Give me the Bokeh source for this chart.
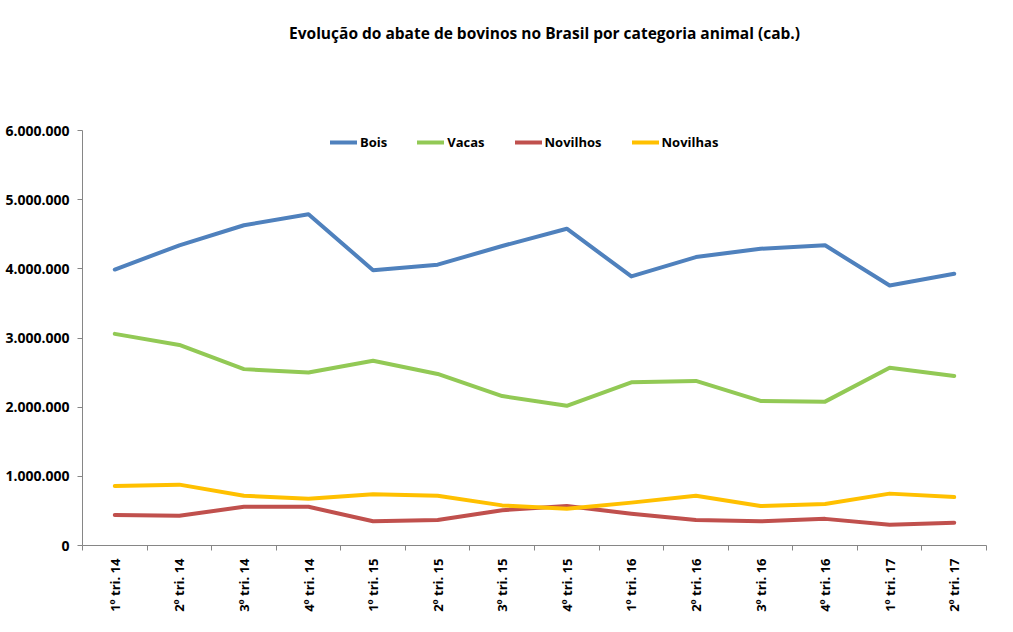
import math
from bokeh.plotting import figure
from bokeh.layouts import column
from bokeh.models import Range1d, FixedTicker, Legend, LegendItem
from bokeh.core.properties import value
from bokeh.embed import file_html
from bokeh.resources import INLINE

categories = ["1º tri. 14", "2º tri. 14", "3º tri. 14", "4º tri. 14",
              "1º tri. 15", "2º tri. 15", "3º tri. 15", "4º tri. 15",
              "1º tri. 16", "2º tri. 16", "3º tri. 16", "4º tri. 16",
              "1º tri. 17", "2º tri. 17"]
bois = [3990000, 4340000, 4630000, 4790000, 3980000, 4060000, 4330000,
        4580000, 3890000, 4170000, 4290000, 4340000, 3760000, 3930000]
vacas = [3060000, 2900000, 2550000, 2500000, 2670000, 2480000, 2160000,
         2020000, 2360000, 2380000, 2090000, 2080000, 2570000, 2450000]
novilhos = [440000, 430000, 560000, 560000, 350000, 370000, 510000,
            570000, 460000, 370000, 350000, 385000, 300000, 330000]
novilhas = [860000, 880000, 720000, 675000, 740000, 720000, 580000,
            530000, 620000, 720000, 570000, 600000, 750000, 700000]
y_ticks = [0, 1000000, 2000000, 3000000, 4000000, 5000000, 6000000]
y_tick_labels = ["0", "1.000.000", "2.000.000", "3.000.000",
                 "4.000.000", "5.000.000", "6.000.000"]
title_text = "Evolução do abate de bovinos no  Brasil por categoria animal (cab.)"

FONT = "Open Sans"
AXIS_GRAY = "#868686"
W, H, TITLE_H = 1013, 632, 64

# ---- title strip (its own small figure, pixel coordinates) ----
tfig = figure(width=W, height=TITLE_H, output_backend="svg", toolbar_location=None,
              x_range=Range1d(0, W), y_range=Range1d(0, TITLE_H),
              min_border=0)
tfig.axis.visible = False
tfig.grid.visible = False
tfig.outline_line_color = None
tfig.background_fill_color = "white"
tfig.border_fill_color = "white"
tfig.title.text = ""
tfig.text(x=[520], y=[TITLE_H - 32], text=[title_text], text_align="center",
          text_baseline="middle", text_font=value(FONT), text_font_style="bold",
          text_font_size=value("15.5px"), text_color="black")

# ---- main chart ----
xs = list(range(1, len(categories) + 1))

p = figure(width=W, height=H - TITLE_H, output_backend="svg", toolbar_location=None,
           x_range=Range1d(0.5, len(categories) + 0.5),
           y_range=Range1d(0, 6000000),
           min_border_left=82, min_border_right=27,
           min_border_top=130 - TITLE_H, min_border_bottom=87)
p.background_fill_color = "white"
p.border_fill_color = "white"
p.outline_line_color = None
p.xgrid.visible = False
p.ygrid.visible = False
p.title.text = ""

series = [("Bois", bois, "#4F81BD"), ("Vacas", vacas, "#92C955"),
          ("Novilhos", novilhos, "#C0504D"), ("Novilhas", novilhas, "#FFC000")]
items = []
for name, vals, col in series:
    r = p.line(xs, vals, line_color=col, line_width=4, line_cap="round",
               line_join="round")
    items.append(LegendItem(label=name, renderers=[r]))

# x axis
xa = p.xaxis[0]
xa.ticker = FixedTicker(ticks=xs, minor_ticks=[x - 0.5 for x in xs] + [len(xs) + 0.5])
xa.major_label_overrides = {x: c for x, c in zip(xs, categories)}
xa.major_label_orientation = math.pi / 2
xa.major_tick_line_color = None
xa.minor_tick_line_color = AXIS_GRAY
xa.minor_tick_out = 5
xa.minor_tick_in = 0
xa.axis_line_color = AXIS_GRAY
xa.major_label_standoff = 7
xa.major_label_text_font = FONT
xa.major_label_text_font_style = "bold"
xa.major_label_text_font_size = "13px"
xa.major_label_text_color = "black"

# y axis
ya = p.yaxis[0]
ya.ticker = FixedTicker(ticks=y_ticks)
ya.major_label_overrides = {t: l for t, l in zip(y_ticks, y_tick_labels)}
ya.axis_line_color = AXIS_GRAY
ya.major_tick_line_color = AXIS_GRAY
ya.major_tick_out = 5
ya.major_tick_in = 0
ya.minor_tick_line_color = None
ya.major_label_standoff = 8
ya.major_label_text_font = FONT
ya.major_label_text_font_style = "bold"
ya.major_label_text_font_size = "14px"
ya.major_label_text_color = "black"

legend = Legend(items=items, orientation="horizontal", location=(248, 393),
                padding=0, margin=0, spacing=30, label_standoff=3,
                glyph_width=27, glyph_height=20,
                border_line_color=None, background_fill_alpha=0,
                label_text_font=FONT, label_text_font_style="bold",
                label_text_font_size="13px", label_text_color="black")
p.add_layout(legend, "center")

layout = column(tfig, p, spacing=0)
open("out.html", "w").write(file_html(layout, INLINE))
